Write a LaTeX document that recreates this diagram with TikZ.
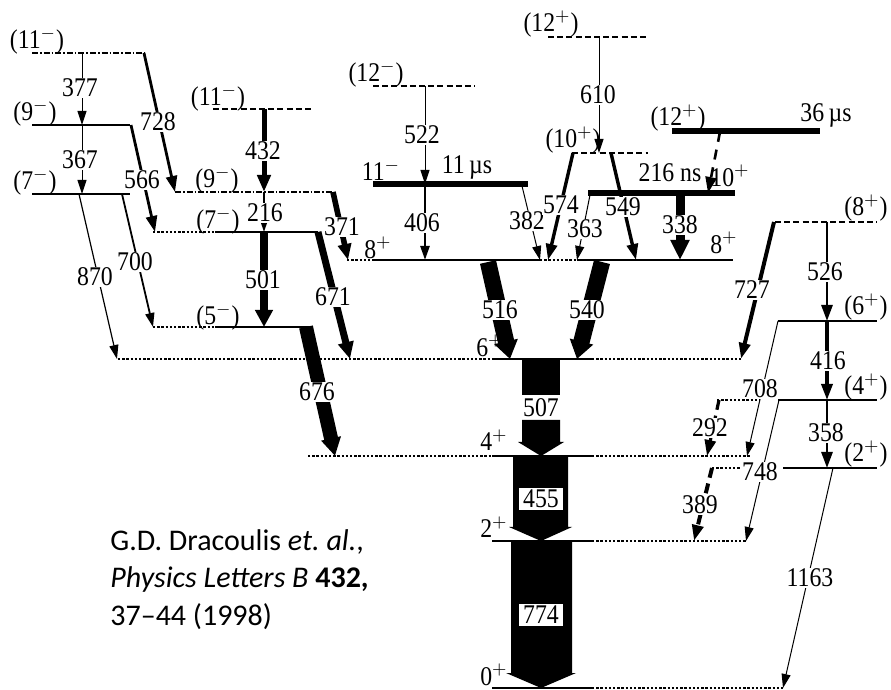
\documentclass[tikz,border=0pt]{standalone}
\usepackage{fontspec}
\setmainfont{Liberation Serif}[FakeStretch=0.88]
\newfontfamily\citefont{Carlito}
\usetikzlibrary{arrows.meta}

\tikzset{
  lvl/.style={line width=0.8pt},
  lvldot/.style={line width=0.8pt, dash pattern=on 1.2pt off 0.9pt},
  lvldash/.style={line width=0.8pt, dash pattern=on 3pt off 1.6pt},
  lvldashdot/.style={line width=0.8pt, dash pattern=on 3pt off 1pt on 0.8pt off 1pt},
  iso/.style={line width=2.6pt},
  gam/.style={line width=0.5pt, -{Triangle[length=7pt,width=4.5pt]}},
  gammid/.style={line width=1.4pt, -{Triangle[length=8pt,width=5.5pt]}},
  glab/.style={fill=white, inner sep=0.6pt},
  spin/.style={inner sep=0pt},
}

\begin{document}
\begin{tikzpicture}[x=0.5pt, y=-0.5pt, font=\fontsize{13.5}{15}\selectfont]
\useasboundingbox (0,0) rectangle (891,690);

% levels, left band
\draw[lvldashdot] (32,53) -- (145,53);
\draw[lvl] (32,125) -- (130,125);
\draw[lvl] (32,194) -- (130,194);
\node[spin] (s11a) at (37,41) {(11$^{-}$)};
\node[spin] (s9a) at (35,113) {(9$^{-}$)};
\node[spin] (s7a) at (35,182) {(7$^{-}$)};

% second band
\draw[lvldash] (213,109) -- (313,109);
\draw[lvldashdot] (175,192) -- (332,192);
\draw[lvldot] (153,232) -- (215,232);
\draw[lvl] (215,232) -- (318,232);
\draw[lvldot] (153,327) -- (215,327);
\draw[lvl] (215,327) -- (312,327);
\node[spin] (s11b) at (218,98) {(11$^{-}$)};
\node[spin] (s9b) at (217,180) {(9$^{-}$)};
\node[spin] (s7b) at (218,221) {(7$^{-}$)};
\node[spin] (s5b) at (218,317) {(5$^{-}$)};

% ground band
\draw[lvldot] (118,359) -- (492,359);
\draw[lvl] (492,359) -- (592,359);
\draw[lvldot] (592,359) -- (742,359);
\draw[lvldot] (308,456) -- (492,456);
\draw[lvl] (492,456) -- (592,456);
\draw[lvldot] (592,456) -- (750,456);
\draw[lvl] (492,541) -- (592,541);
\draw[lvldot] (592,541) -- (747,541);
\draw[lvl] (492,688) -- (592,688);
\draw[lvldot] (592,688) -- (783,688);
\draw[lvldot] (347,260) -- (375,260);
\draw[lvl] (375,260) -- (540,260);
\draw[lvldot] (540,260) -- (577,260);
\draw[lvl] (577,260) -- (733,260);
\node[spin] (s8g) at (378,248) {8$^{+}$};
\node[spin] (s6g) at (490,346) {6$^{+}$};
\node[spin] (s4g) at (494,440) {4$^{+}$};
\node[spin] (s2g) at (494,527) {2$^{+}$};
\node[spin] (s0g) at (494,675) {0$^{+}$};
\node[spin] (s8r) at (724,243) {8$^{+}$};

% isomers and upper levels
\draw[iso] (373,184) -- (528,184);
\draw[iso] (588,193) -- (735,193);
\draw[iso] (672,131) -- (820,131);
\draw[lvldash] (373,86) -- (475,86);
\draw[lvldash] (548,37) -- (648,37);
\draw[lvldash] (572,153) -- (648,153);
\node[spin] (s12m) at (376,74) {(12$^{-}$)};
\node[spin] (s11i) at (381,170) {11$^{-}$};
\node[spin] (t11) at (467,167) {11\,µs};
\node[spin] (s12t) at (551,24) {(12$^{+}$)};
\node[spin] (s10p) at (573,140) {(10$^{+}$)};
\node[spin] (t216) at (670,173) {216 ns};
\node[spin] (s10i) at (730,176) {10$^{+}$};
\node[spin] (s12i) at (678,118) {(12$^{+}$)};
\node[spin] (t36) at (826,115) {36\,µs};

% right band
\draw[lvldash] (775,222) -- (877,222);
\draw[lvl] (778,321) -- (877,321);
\draw[lvldot] (717,400) -- (760,400);
\draw[lvl] (778,400) -- (877,400);
\draw[lvldot] (712,468) -- (740,468);
\draw[lvl] (783,468) -- (877,468);
\node[spin] (s8r2) at (866,208) {(8$^{+}$)};
\node[spin] (s6r) at (866,307) {(6$^{+}$)};
\node[spin] (s4r) at (866,387) {(4$^{+}$)};
\node[spin] (s2r) at (866,454) {(2$^{+}$)};

% transitions, left
\draw[gam] (82,53) -- (82,125);
\draw[gam] (82,125) -- (82,194);
\draw[gammid] (144,53) -- (175,192);
\draw[gammid] (131,125) -- (155,232);
\draw[gam, line width=0.6pt] (79,194) -- (117,359);
\draw[gam, line width=0.9pt] (122,194) -- (153,327);
\draw[line width=2.5pt, -{Triangle[length=8.5pt,width=6.5pt]}] (264,109) -- (264,192);
\draw[gam, line width=0.9pt] (264,192) -- (264,232);
\draw[line width=4pt, -{Triangle[length=8.5pt,width=8.5pt]}] (264,232) -- (264,327);
\draw[line width=2.8pt, -{Triangle[length=8pt,width=6.5pt]}] (333,192) -- (348,260);
\draw[line width=3.5pt, -{Triangle[length=8.5pt,width=7.5pt]}] (318,232) -- (350,359);
\draw[line width=7pt, -{Triangle[length=9pt,width=9.5pt]}] (306,327) -- (335,456);
\node[glab] (l377) at (80,88) {377};
\node[glab] (l367) at (80,160) {367};
\node[glab] (l728) at (158,122) {728};
\node[glab] (l566) at (142,180) {566};
\node[glab] (l870) at (95,277) {870};
\node[glab] (l700) at (135,262) {700};
\node[glab] (l432) at (263,151) {432};
\node[glab] (l216) at (265,213) {216};
\node[glab] (l501) at (263,280) {501};
\node[glab] (l371) at (342,227) {371};
\node[glab] (l671) at (333,297) {671};
\node[glab] (l676) at (317,392) {676};

% transitions, centre
\draw[gam] (425,86) -- (425,184);
\draw[gam, line width=1.2pt] (425,184) -- (425,260);
\draw[gam] (522,186) -- (540,260);
\draw[gammid, line width=1.7pt] (573,153) -- (548,260);
\draw[gam] (590,195) -- (577,260);
\draw[gammid, line width=1.7pt] (611,153) -- (636,260);
\draw[gam] (599,37) -- (599,153);
\draw[line width=4.5pt, -{Triangle[length=10pt,width=9pt]}] (680,193) -- (680,260);
\draw[gammid, dash pattern=on 5pt off 4pt, line width=1.3pt] (720,132) -- (708,193);
\draw[line width=8.2pt, -{Triangle[length=9pt,width=11.5pt]}] (488,262) -- (510,359);
\draw[line width=8.2pt, -{Triangle[length=9pt,width=11.5pt]}] (602,262) -- (577,359);
\node[glab] (l522) at (422,135) {522};
\node[glab] (l406) at (422,223) {406};
\node[glab] (l382) at (527,221) {382};
\node[glab] (l574) at (561,205) {574};
\node[glab] (l363) at (585,229) {363};
\node[glab] (l549) at (623,207) {549};
\node[glab] (l610) at (598,95) {610};
\node[glab] (l338) at (680,225) {338};
\node[glab] (l516) at (500,310) {516};
\node[glab] (l540) at (587,310) {540};

% yrast cascade
\fill (522,359) rectangle (560,395);
\fill (522,420) -- (560,420) -- (560,442) -- (564,442) -- (541,456) -- (518,442) -- (522,442) -- cycle;
\fill (513,456) -- (568,456) -- (568,527) -- (572,527) -- (541,541) -- (509,527) -- (513,527) -- cycle;
\fill (511,541) -- (572,541) -- (572,673) -- (576,673) -- (541,688) -- (506,673) -- (511,673) -- cycle;
\node[spin] (l507) at (541,408) {507};
\node[fill=white, inner xsep=2pt, inner ysep=1pt] (l455) at (541,499) {455};
\node[fill=white, inner xsep=2pt, inner ysep=1pt] (l774) at (541,615) {774};

% transitions, right
\draw[gammid, line width=2pt] (774,222) -- (741,359);
\draw[gammid] (827,222) -- (827,321);
\draw[gammid, line width=1.7pt] (827,321) -- (827,400);
\draw[gammid] (827,400) -- (827,468);
\draw[gam] (778,321) -- (747,456);
\draw[gam] (779,400) -- (746,541);
\draw[gammid, dash pattern=on 5pt off 3pt, line width=1.6pt] (719,400) -- (707,456);
\draw[gammid, dash pattern=on 5pt off 3pt, line width=2pt] (712,468) -- (694,541);
\draw[gam] (833,468) -- (783,688);
\node[glab] (l727) at (752,290) {727};
\node[glab] (l526) at (825,272) {526};
\node[glab] (l416) at (828,361) {416};
\node[glab] (l358) at (826,433) {358};
\node[glab] (l708) at (760,389) {708};
\node[glab] (l748) at (760,472) {748};
\node[glab] (l292) at (710,428) {292};
\node[glab] (l389) at (700,505) {389};
\node[glab] (l1163) at (810,578) {1163};

% reference
\node[font=\citefont\fontsize{15}{18.75}\selectfont, align=left, anchor=north west, inner sep=0pt] (cite) at (110,529)
  {G.D. Dracoulis \textit{et.\ al.},\\ \textit{Physics Letters B} \textbf{432,}\\ 37–44 (1998)};
\end{tikzpicture}
\end{document}
